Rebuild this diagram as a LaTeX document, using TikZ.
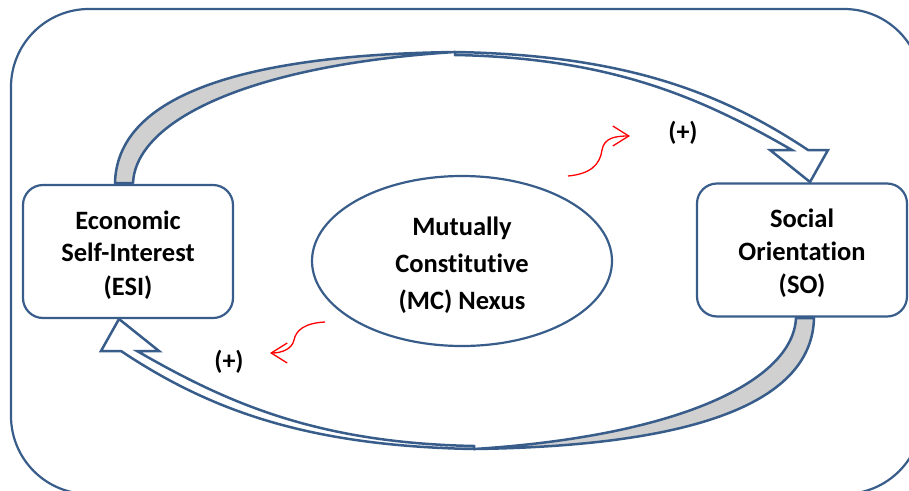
\documentclass[tikz,border=0pt]{standalone}
\usepackage{fontspec}
\setmainfont{Carlito}[Ligatures=NoCommon]
\usepackage{tikz}
\usetikzlibrary{arrows.meta,positioning,shapes.geometric}
\usepackage{xcolor}
\definecolor{edgeblue}{RGB}{56,93,138}
\definecolor{ribbon}{RGB}{208,208,208}
\tikzset{
  box/.style={draw=edgeblue, line width=2.2pt, rounded corners=20pt, fill=white, align=center, minimum width=210pt, minimum height=133pt, text height=91pt, font=\fontsize{26.5}{33}\selectfont\bfseries},
  nexus/.style={ellipse, draw=edgeblue, line width=2.2pt, fill=white, align=center, minimum width=300pt, minimum height=170pt, inner sep=0pt, text height=101pt, font=\fontsize{26.5}{37}\selectfont\bfseries},
  sign/.style={inner sep=0pt, font=\fontsize{26}{30}\selectfont\bfseries},
  frame/.style={draw=edgeblue, line width=2.2pt, rounded corners=78pt},
  bandback/.style={draw=edgeblue, line width=2.5pt, fill=ribbon, line join=round},
  bandfront/.style={draw=edgeblue, line width=2.5pt, fill=white, line join=miter},
  squiggle/.style={red, line width=1.3pt, -{Straight Barb[length=16pt,width=20pt]}}
}

\begin{document}
\begin{tikzpicture}[x=1pt,y=-1pt]
\useasboundingbox (0,0) rectangle (909,490);
\clip (0,0) rectangle (909,490);
\draw[frame] (11,9) rectangle (922,494);

\foreach \turn in {0,180}{
\begin{scope}[rotate around={\turn:(464.5,250.5)}]
\draw[bandback] (115,183) .. controls (117,100) and (230,55) .. (455,52)
  .. controls (250,65) and (136,120) .. (133,183) -- cycle;
\draw[bandfront] (455,52) .. controls (620,55) and (718,90) .. (808,150)
  -- (828,150) -- (810,182) -- (770,150) -- (792,150)
  .. controls (705,100) and (615,58) .. (455,55) -- cycle;
\end{scope}
}

\node[box] (esi) at (128,251.5) {Economic\\Self-Interest\\(ESI)};
\node[box] (so) at (802,250) {Social\\Orientation\\(SO)};
\node[nexus] (mc) at (462,261) {Mutually\\Constitutive\\(MC) Nexus};

\node[sign] (plusso) at (683,133) {(+)};
\node[sign] (plusesi) at (229,362) {(+)};

\coordinate (sqa) at (568,176);
\coordinate (sqb) at (630,136);
\coordinate (sqc) at (325,322);
\coordinate (sqd) at (270,353);
\draw[squiggle] (sqa) .. controls (590,174) and (600,165) .. (602,150)
  .. controls (604,138) and (615,136) .. (sqb);
\draw[squiggle] (sqc) .. controls (305,323) and (296,330) .. (294,340)
  .. controls (292,349) and (282,353) .. (sqd);
\end{tikzpicture}
\end{document}
